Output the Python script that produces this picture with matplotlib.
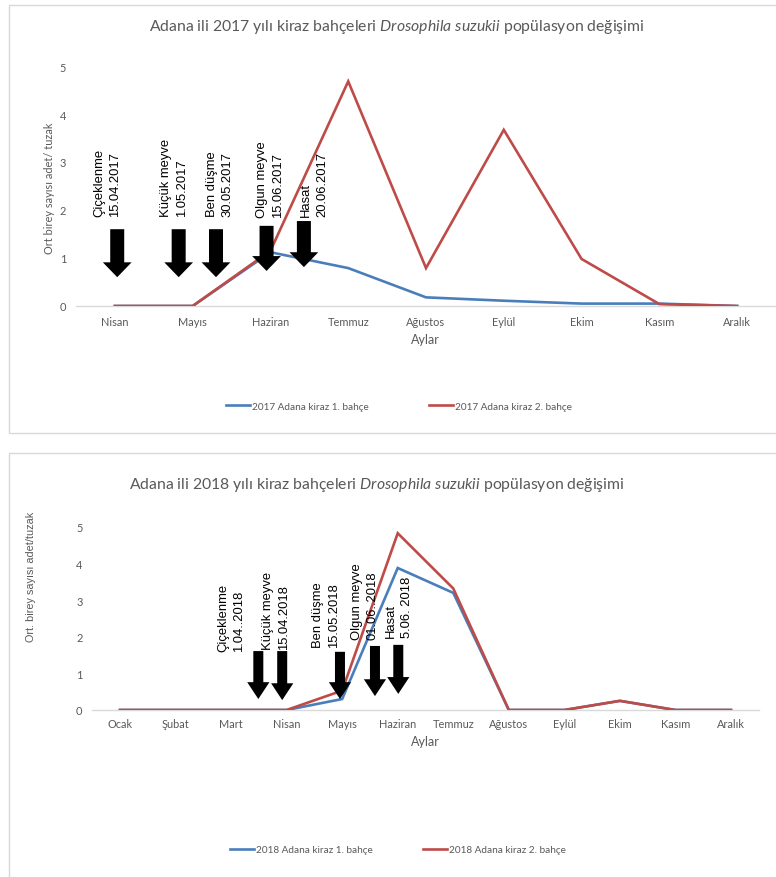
import matplotlib
matplotlib.use("Agg")
import matplotlib.pyplot as plt
from matplotlib.patches import Rectangle, FancyArrow

plt.rcParams["font.family"] = ["Lato", "DejaVu Sans"]
plt.rcParams["mathtext.fontset"] = "custom"
plt.rcParams["mathtext.it"] = "Lato:italic"
plt.rcParams["mathtext.rm"] = "Lato"

# ---- 2017 data ----
months_2017 = ["Nisan", "Mayıs", "Haziran", "Temmuz", "Ağustos", "Eylül", "Ekim", "Kasım", "Aralık"]
garden1_2017 = [0, 0, 1.12, 0.79, 0.18, 0.11, 0.05, 0.05, 0]
garden2_2017 = [0, 0, 1.15, 4.68, 0.79, 3.67, 0.98, 0.04, 0]
labels_2017 = ["2017 Adana kiraz 1. bahçe", "2017 Adana kiraz 2. bahçe"]

# phenology events 2017: text, arrow x, arrow top, arrow tip, text x, text bottom
events_2017 = ["Çiçeklenme\n15.04.2017", "Küçük meyve\n1.05.2017", "Ben düşme\n30.05.2017",
               "Olgun meyve\n15.06.2017", "Hasat\n20.06.2017"]
ev_x_2017 = [0.03, 0.82, 1.30, 1.95, 2.43]
ev_top_2017 = [1.60, 1.60, 1.60, 1.67, 1.77]
ev_tip_2017 = [0.60, 0.60, 0.60, 0.73, 0.81]
ev_tx_2017 = [-0.10, 0.76, 1.35, 1.99, 2.56]
ev_ty_2017 = [1.87, 1.87, 1.87, 1.85, 1.87]

# ---- 2018 data ----
months_2018 = ["Ocak", "Şubat", "Mart", "Nisan", "Mayıs", "Haziran", "Temmuz", "Ağustos",
               "Eylül", "Ekim", "Kasım", "Aralık"]
garden1_2018 = [0, 0, 0, 0, 0.30, 3.88, 3.20, 0, 0, 0.25, 0, 0]
garden2_2018 = [0, 0, 0, 0, 0.53, 4.83, 3.32, 0, 0, 0.25, 0, 0]
labels_2018 = ["2018 Adana kiraz 1. bahçe", "2018 Adana kiraz 2. bahçe"]

events_2018 = ["Çiçeklenme\n1.04..2018", "Küçük meyve\n15.04.2018", "Ben düşme\n15.05.2018",
               "Olgun meyve\n01.06..2018", "Hasat\n5.06. 2018"]
ev_x_2018 = [2.49, 2.92, 3.96, 4.59, 5.01]
ev_top_2018 = [1.61, 1.61, 1.59, 1.75, 1.78]
ev_tip_2018 = [0.30, 0.27, 0.30, 0.38, 0.44]
ev_tx_2018 = [2.00, 2.81, 3.71, 4.41, 5.03]
ev_ty_2018 = [1.61, 1.67, 1.72, 1.94, 1.99]

BLUE = "#4A7EBB"
RED = "#BE4B48"
GRAY = "#595959"
W, H = 776, 878

fig = plt.figure(figsize=(W / 100, H / 100), dpi=100)
fig.patch.set_facecolor("white")


def fx(px):
    return px / W


def fy(py):
    return 1 - py / H


# panel frames
fig.add_artist(Rectangle((fx(9), fy(434)), fx(800), (434 - 6) / H, transform=fig.transFigure,
                         fill=False, edgecolor="#D9D9D9", lw=1.0))
fig.add_artist(Rectangle((fx(9), fy(900)), fx(800), (900 - 454) / H, transform=fig.transFigure,
                         fill=False, edgecolor="#D9D9D9", lw=1.0))


def panel(rect, months, s1, s2, labels, events, ex, etop, etip, etx, ety,
          shaft_w, head_w, head_l, title, title_xy, ylabel, ylabel_xy, ylabel_font,
          xlabel_xy, legend_xy, colspacing, tick_pad_x):
    ax = fig.add_axes(rect)
    x = list(range(len(months)))
    l1, = ax.plot(x, s1, color=BLUE, lw=1.9, solid_joinstyle="miter", zorder=3)
    l2, = ax.plot(x, s2, color=RED, lw=1.9, solid_joinstyle="miter", zorder=3)
    ax.set_xlim(-0.5, len(months) - 0.5)
    ax.set_ylim(0, 5)
    ax.set_xticks(x)
    ax.set_xticklabels(months)
    ax.set_yticks(range(6))
    for sp in ["top", "right", "left"]:
        ax.spines[sp].set_visible(False)
    ax.spines["bottom"].set_color("#D9D9D9")
    ax.spines["bottom"].set_linewidth(1.0)
    ax.spines["bottom"].set_zorder(1)
    ax.tick_params(axis="x", length=0, pad=tick_pad_x, labelsize=7.9, labelcolor=GRAY)
    ax.tick_params(axis="y", length=0, pad=7, labelsize=7.9, labelcolor=GRAY)
    ax.patch.set_alpha(0)

    for txt, ax_x, top, tip, tx, ty in zip(events, ex, etop, etip, etx, ety):
        arr = FancyArrow(ax_x, top, 0, -(top - tip), width=shaft_w, head_width=head_w,
                         head_length=head_l, length_includes_head=True,
                         color="black", lw=0, zorder=5, clip_on=False)
        ax.add_patch(arr)
        ax.text(tx, ty, txt, rotation=90, ha="center", va="bottom", multialignment="left",
                fontsize=9.4, family=["Liberation Sans", "DejaVu Sans"], color="black",
                linespacing=1.45, zorder=6)

    fig.text(fx(title_xy[0]), fy(title_xy[1]), title, ha="center", va="center",
             fontsize=11.3, color=GRAY)
    fig.text(fx(ylabel_xy[0]), fy(ylabel_xy[1]), ylabel, rotation=90, ha="center",
             va="center", fontsize=ylabel_font[1], family=ylabel_font[0], color=GRAY)
    fig.text(fx(xlabel_xy[0]), fy(xlabel_xy[1]), "Aylar", ha="center", va="center",
             fontsize=9, color=GRAY)
    leg = fig.legend([l1, l2], labels, loc="center",
                     bbox_to_anchor=(fx(legend_xy[0]), fy(legend_xy[1])),
                     bbox_transform=fig.transFigure, ncol=2, frameon=False,
                     fontsize=7.2, handlelength=2.4, handletextpad=0.25,
                     columnspacing=colspacing, borderpad=0)
    for t in leg.get_texts():
        t.set_color(GRAY)
    return ax


title_2017 = "Adana ili 2017 yılı kiraz bahçeleri $\\mathit{Drosophila\\ suzukii}$ popülasyon değişimi"
title_2018 = "Adana ili 2018 yılı kiraz bahçeleri $\\mathit{Drosophila\\ suzukii}$ popülasyon değişimi"

panel([fx(76), fy(307), fx(700), (307 - 67) / H], months_2017, garden1_2017, garden2_2017,
      labels_2017, events_2017, ev_x_2017, ev_top_2017, ev_tip_2017, ev_tx_2017, ev_ty_2017,
      0.18, 0.37, 0.31, title_2017, (397, 27), "Ort birey sayısı adet/ tuzak", (50, 188),
      (["Lato", "DejaVu Sans"], 7.9), (425, 340), (399, 407), 6.0, 7)

panel([fx(92.25), fy(711), fx(666.5), (711 - 528) / H], months_2018, garden1_2018, garden2_2018,
      labels_2018, events_2018, ev_x_2018, ev_top_2018, ev_tip_2018, ev_tx_2018, ev_ty_2018,
      0.18, 0.40, 0.46, title_2018, (377, 485), "Ort. birey sayısı adet/tuzak", (31, 577),
      (["Liberation Sans", "DejaVu Sans"], 7.8), (425, 742), (398, 851), 5.0, 6)

fig.savefig("out.png", dpi=100, facecolor="white")
